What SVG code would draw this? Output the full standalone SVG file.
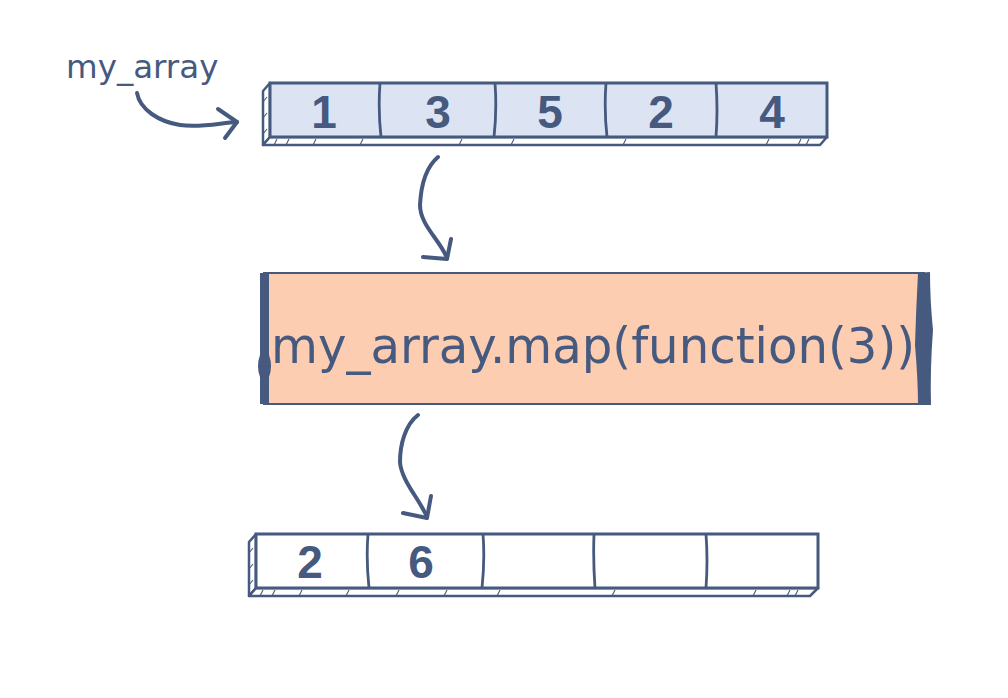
<svg xmlns="http://www.w3.org/2000/svg" width="1008" height="698" viewBox="0 0 1008 698">
<defs>
<style>
.ln{fill:none;stroke:#46597f;stroke-width:2.5;stroke-linejoin:round;stroke-linecap:round}
.face{fill:#ffffff;stroke:#46597f;stroke-width:2.5;stroke-linejoin:round}
.tick{stroke:#46597f;stroke-width:1.1;fill:none}
.div{stroke:#46597f;stroke-width:2.8;fill:none}
.num{font-family:"Liberation Sans",Arial,sans-serif;font-weight:bold;font-size:46px;fill:#46597f;text-anchor:middle}
.arr{fill:none;stroke:#46597f;stroke-width:4;stroke-linecap:round;stroke-linejoin:round}
.txt{font-family:"DejaVu Sans",Verdana,sans-serif;fill:#46597f}
</style>
</defs>
<rect width="1008" height="698" fill="#ffffff"/>

<g id="label">
<text class="txt" x="66" y="78" font-size="32.5">my_array</text>
</g>

<g id="input-array">
<polygon class="face" points="270,83 263,91 263,145 270,137"/>
<polygon class="face" points="270,137 827,137 820,145 263,145"/>
<rect x="270" y="83" width="557" height="54" fill="#dce3f3" stroke="#46597f" stroke-width="3"/>
<path class="div" d="M380,83 Q378,110 381,137 M495,83 Q497,110 494,137 M606,83 Q604,110 607,137 M716,83 Q718,110 716,137"/>
<path class="tick" d="M263,102 l4,-5 M263,118 l4,-5 M263,134 l4,-5 M274,145 l3,-6 M286,145 l3,-6 M313,145 l3,-6 M360,145 l3,-6 M459,145 l3,-6 M511,145 l3,-6 M623,145 l3,-6 M766,145 l3,-6 M798,145 l3,-6 M806,145 l3,-6"/>
<text class="num" x="324" y="128">1</text>
<text class="num" x="438" y="128">3</text>
<text class="num" x="550" y="128">5</text>
<text class="num" x="661" y="128">2</text>
<text class="num" x="772" y="128">4</text>
</g>

<g id="map-box">
<rect x="264" y="273" width="660" height="131" fill="#fdcdb2" stroke="#46597f" stroke-width="2"/>
<path d="M260,273 L269,273 L269,355 Q273,366 269,377 L269,404 L260,404 L260,377 Q256,366 260,355 Z" fill="#46597f"/>
<path d="M918,273 L930,272 Q930,300 933,330 Q930,370 931,405 L918,405 Q918,380 915,345 Q916,310 918,273 Z" fill="#46597f"/>
<text class="txt" x="271" y="363" font-size="49" textLength="644" lengthAdjust="spacingAndGlyphs">my_array.map(function(3))</text>
</g>

<g id="output-array">
<polygon class="face" points="256,534 249,542 249,596 256,588"/>
<polygon class="face" points="256,588 818,588 810,596 249,596"/>
<rect x="256" y="534" width="562" height="54" fill="#ffffff" stroke="#46597f" stroke-width="3"/>
<path class="div" d="M368,534 Q366,560 369,588 M483,534 Q485,560 482,588 M594,534 Q593,560 595,588 M706,534 Q708,560 706,588"/>
<path class="tick" d="M249,553 l4,-5 M249,569 l4,-5 M249,585 l4,-5 M260,596 l3,-6 M272,596 l3,-6 M299,596 l3,-6 M346,596 l3,-6 M396,596 l3,-6 M444,596 l3,-6 M497,596 l3,-6 M612,596 l3,-6 M753,596 l3,-6 M787,596 l3,-6 M795,596 l3,-6"/>
<text class="num" x="310" y="578">2</text>
<text class="num" x="421" y="578">6</text>
</g>

<g id="connectors">
<path class="arr" d="M137,93 C140,110 160,122 180,125 C200,128 220,123 237,122"/>
<path class="arr" d="M218,109 L237,122 L225,138"/>
<path class="arr" d="M438,157 C425,168 421,185 420,205 C420,225 440,240 447,258"/>
<path class="arr" d="M423,257 L447,259 L451,239"/>
<path class="arr" d="M418,415 C405,425 400,445 400,462 C401,480 420,500 427,517"/>
<path class="arr" d="M403,513 L427,518 L431,496"/>
</g>
</svg>
